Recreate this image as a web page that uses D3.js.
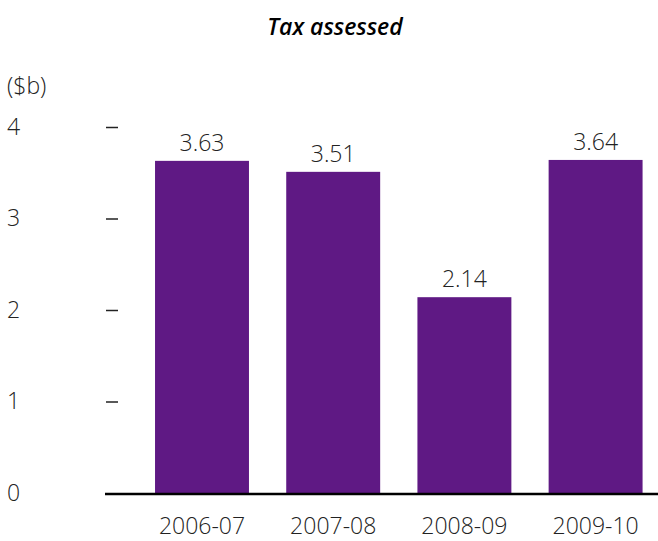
<!DOCTYPE html>
<html>
<head>
<meta charset="utf-8">
<script src="https://cdn.jsdelivr.net/npm/d3@7"></script>
<style>
  body { margin: 0; background: #fff; }
  text { font-family: "Open Sans", sans-serif; }
</style>
</head>
<body>
<div id="chart"></div>
<script>
const years = ["2006-07", "2007-08", "2008-09", "2009-10"];
const taxValues = [3.63, 3.51, 2.14, 3.64];
const yTicks = [0, 1, 2, 3, 4];

const W = 658, H = 541;

const x = d3.scaleBand().domain(years).range([136.4, 661.2])
    .paddingInner(0.284).paddingOuter(0.142);
const y = d3.scaleLinear().domain([0, 4]).range([493, 127]);

const svg = d3.select("#chart").append("svg")
    .attr("width", W)
    .attr("height", H);

// title
svg.append("text")
    .attr("x", 335)
    .attr("y", 35)
    .attr("text-anchor", "middle")
    .style("font-size", "23px")
    .style("font-weight", 600)
    .style("font-style", "italic")
    .text("Tax assessed");

svg.append("text")
    .attr("x", 7)
    .attr("y", 94)
    .attr("fill", "#222")
    .style("font-size", "23px")
    .style("font-weight", 300)
    .text("($b)");

// y axis: dash ticks, labels at far left
const yAxis = svg.append("g")
    .attr("transform", "translate(118,0)")
    .call(d3.axisLeft(y).tickValues(yTicks).tickFormat(d3.format("d"))
        .tickSize(12).tickPadding(0));
yAxis.select(".domain").remove();
yAxis.selectAll(".tick line")
    .attr("stroke", "#222")
    .attr("stroke-width", 1.5)
    .filter(d => d === 0).remove();
yAxis.selectAll(".tick text")
    .attr("x", -111)
    .attr("text-anchor", "start")
    .attr("fill", "#222")
    .style("font-size", "23px")
    .style("font-weight", 300)
    .style("font-family", "'Open Sans', sans-serif");

// bars
svg.selectAll(".bar")
    .data(taxValues)
    .enter().append("rect")
    .attr("class", "bar")
    .attr("x", (d, i) => x(years[i]))
    .attr("y", d => y(d))
    .attr("width", x.bandwidth())
    .attr("height", d => y(0) - y(d))
    .attr("fill", "#5f1984");

svg.selectAll(".val")
    .data(taxValues)
    .enter().append("text")
    .attr("class", "val")
    .attr("x", (d, i) => x(years[i]) + x.bandwidth() / 2)
    .attr("y", d => y(d) - 10)
    .attr("text-anchor", "middle")
    .attr("fill", "#222")
    .style("font-size", "23px")
    .style("font-weight", 300)
    .text(d => d.toFixed(2));

// baseline
svg.append("line")
    .attr("x1", 105).attr("x2", W)
    .attr("y1", y(0) + 1).attr("y2", y(0) + 1)
    .attr("stroke", "#000")
    .attr("stroke-width", 2.5);

// x axis labels
const xAxis = svg.append("g")
    .attr("transform", `translate(0,${y(0)})`)
    .call(d3.axisBottom(x).tickSize(0).tickPadding(25));
xAxis.select(".domain").remove();
xAxis.selectAll(".tick text")
    .attr("fill", "#222")
    .style("font-size", "23px")
    .style("font-weight", 300)
    .style("font-family", "'Open Sans', sans-serif");
</script>
</body>
</html>
